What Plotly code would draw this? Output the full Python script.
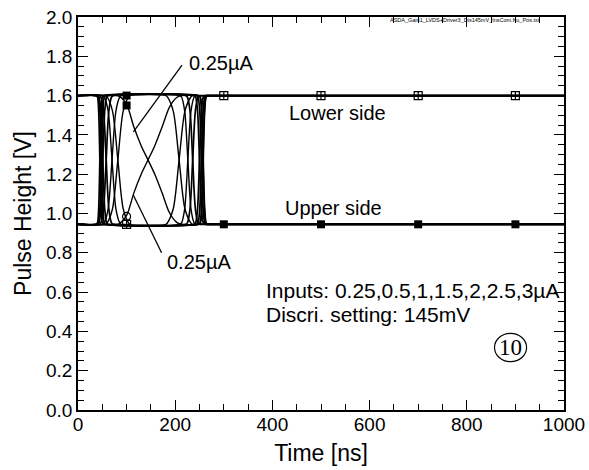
import plotly.graph_objects as go

# ---------------- data ----------------
inputs_uA = [3.0, 2.5, 2.0, 1.5, 1.0, 0.5, 0.25]

# time points [ns] for each input's traces
t_3_0 = [0, 37, 40, 42.5, 45, 47.5, 50, 53, 248, 251, 254, 257, 260, 263, 266, 269, 1000]
t_2_5 = [0, 39, 42, 45, 48, 51, 54, 57, 244, 247, 250.5, 254, 257.5, 261, 264, 267, 1000]
t_2_0 = [0, 40, 43, 47, 51, 55, 59, 62, 239, 242, 246, 250, 254, 258, 261, 264, 1000]
t_1_5 = [0, 44, 47, 52.5, 58, 63.5, 69, 72, 222, 225, 230.5, 236, 241.5, 247, 250, 253, 1000]
t_1_0 = [0, 51, 54, 62, 70, 78, 86, 89, 210, 213, 219.5, 226, 232.5, 239, 242, 245, 1000]
t_0_5 = [0, 57, 60, 71, 82, 93, 104, 107, 181, 184, 196, 208, 220, 232, 235, 238, 1000]
t_0_25 = [0, 75, 85, 100, 115, 130, 144, 158, 173, 188, 203, 213,
          249, 252, 255, 258, 261, 264, 267, 270, 1000]

# lower-side pulse heights [V]
low_3_0 = [1.6, 1.6, 1.593, 1.521, 1.273, 1.024, 0.952, 0.945, 0.945, 0.952, 1.024, 1.273, 1.521, 1.593, 1.6, 1.6, 1.6]
low_2_5 = [1.6, 1.6, 1.593, 1.521, 1.273, 1.024, 0.952, 0.945, 0.945, 0.952, 1.024, 1.273, 1.521, 1.593, 1.6, 1.6, 1.6]
low_2_0 = [1.6, 1.6, 1.593, 1.521, 1.273, 1.024, 0.952, 0.945, 0.945, 0.952, 1.024, 1.273, 1.521, 1.593, 1.6, 1.6, 1.6]
low_1_5 = [1.6, 1.6, 1.593, 1.521, 1.273, 1.024, 0.952, 0.945, 0.945, 0.952, 1.024, 1.273, 1.521, 1.593, 1.6, 1.6, 1.6]
low_1_0 = [1.6, 1.6, 1.593, 1.521, 1.273, 1.024, 0.952, 0.945, 0.945, 0.952, 1.024, 1.273, 1.521, 1.593, 1.6, 1.6, 1.6]
low_0_5 = [1.6, 1.6, 1.593, 1.521, 1.273, 1.024, 0.952, 0.945, 0.945, 0.952, 1.024, 1.273, 1.521, 1.593, 1.6, 1.6, 1.6]
low_0_25 = [1.6, 1.6, 1.596, 1.555, 1.44, 1.345, 1.273, 1.2, 1.105, 1.005, 0.955, 0.945,
            0.945, 0.952, 1.024, 1.273, 1.521, 1.593, 1.6, 1.6, 1.6]

# upper-side pulse heights [V]
up_3_0 = [0.945, 0.945, 0.952, 1.024, 1.273, 1.521, 1.593, 1.6, 1.6, 1.593, 1.521, 1.273, 1.024, 0.952, 0.945, 0.945, 0.945]
up_2_5 = [0.945, 0.945, 0.952, 1.024, 1.273, 1.521, 1.593, 1.6, 1.6, 1.593, 1.521, 1.273, 1.024, 0.952, 0.945, 0.945, 0.945]
up_2_0 = [0.945, 0.945, 0.952, 1.024, 1.273, 1.521, 1.593, 1.6, 1.6, 1.593, 1.521, 1.273, 1.024, 0.952, 0.945, 0.945, 0.945]
up_1_5 = [0.945, 0.945, 0.952, 1.024, 1.273, 1.521, 1.593, 1.6, 1.6, 1.593, 1.521, 1.273, 1.024, 0.952, 0.945, 0.945, 0.945]
up_1_0 = [0.945, 0.945, 0.952, 1.024, 1.273, 1.521, 1.593, 1.6, 1.6, 1.593, 1.521, 1.273, 1.024, 0.952, 0.945, 0.945, 0.945]
up_0_5 = [0.945, 0.945, 0.952, 1.024, 1.273, 1.521, 1.593, 1.6, 1.6, 1.593, 1.521, 1.273, 1.024, 0.952, 0.945, 0.945, 0.945]
up_0_25 = [0.945, 0.945, 0.949, 0.99, 1.105, 1.2, 1.272, 1.345, 1.44, 1.54, 1.59, 1.6,
           1.6, 1.593, 1.521, 1.273, 1.024, 0.952, 0.945, 0.945, 0.945]

times = [t_3_0, t_2_5, t_2_0, t_1_5, t_1_0, t_0_5, t_0_25]
lows = [low_3_0, low_2_5, low_2_0, low_1_5, low_1_0, low_0_5, low_0_25]
ups = [up_3_0, up_2_5, up_2_0, up_1_5, up_1_0, up_0_5, up_0_25]

# sampled markers
mark_t = [100, 300, 500, 700, 900]
mark_low = [0.945, 1.6, 1.6, 1.6, 1.6]
mark_up = [1.6, 0.945, 0.945, 0.945, 0.945]
mark_t_025 = [100]
mark_low_025 = [1.55]
mark_up_025 = [0.985]

x_ticks = [0, 200, 400, 600, 800, 1000]
y_ticks = [0.0, 0.2, 0.4, 0.6, 0.8, 1.0, 1.2, 1.4, 1.6, 1.8, 2.0]

# ---------------- figure ----------------
FONT = "Liberation Sans, Arial, sans-serif"
fig = go.Figure()

for inp, t, lo, hi in zip(inputs_uA, times, lows, ups):
    w = 1.7 if inp >= 1.5 else 1.4
    for side, v in (("Lower side", lo), ("Upper side", hi)):
        fig.add_trace(go.Scatter(
            x=t, y=v, mode="lines", name=f"{side} {inp} µA",
            line=dict(color="black", width=w, shape="spline", smoothing=0.8),
            showlegend=False, hoverinfo="skip"))

fig.add_trace(go.Scatter(x=mark_t, y=mark_low, mode="markers", showlegend=False,
                         marker=dict(symbol="square-cross-open", size=8, color="black",
                                     line=dict(width=1.2, color="black"))))
fig.add_trace(go.Scatter(x=mark_t, y=mark_up, mode="markers", showlegend=False,
                         marker=dict(symbol="square", size=8, color="black")))
fig.add_trace(go.Scatter(x=mark_t_025, y=mark_low_025, mode="markers", showlegend=False,
                         marker=dict(symbol="square", size=8, color="black")))
fig.add_trace(go.Scatter(x=mark_t_025, y=mark_up_025, mode="markers", showlegend=False,
                         marker=dict(symbol="circle-open", size=8, color="black",
                                     line=dict(width=1.2, color="black"))))

# leader lines for the 0.25 µA labels
fig.add_shape(type="line", x0=114, y0=1.415, x1=214, y1=1.755, xref="x", yref="y",
              line=dict(color="black", width=1.3))
fig.add_shape(type="line", x0=114, y0=1.093, x1=172, y1=0.80, xref="x", yref="y",
              line=dict(color="black", width=1.3))
# circled number
fig.add_shape(type="circle", x0=857, x1=923, y0=0.246, y1=0.39, xref="x", yref="y",
              line=dict(color="black", width=1.2))

ann = dict(showarrow=False, font=dict(family=FONT, size=20, color="black"),
           xanchor="left", yanchor="middle")
fig.add_annotation(x=224, y=1.764, text="0.25µA", **ann)
fig.add_annotation(x=179, y=0.752, text="0.25µA", **ann)
fig.add_annotation(x=430, y=1.51, text="Lower side", **ann)
fig.add_annotation(x=422, y=1.03, text="Upper side", **ann)
ann21 = dict(ann, font=dict(family=FONT, size=21, color="black"))
fig.add_annotation(x=382, y=0.61, text="Inputs: 0.25,0.5,1,1.5,2,2.5,3µA", **ann21)
fig.add_annotation(x=382, y=0.485, text="Discri. setting: 145mV", **ann21)
fig.add_annotation(x=890, y=0.318, text="10", showarrow=False,
                   font=dict(family="Liberation Serif, Times New Roman, serif", size=23, color="black"),
                   xanchor="center", yanchor="middle")
fig.add_annotation(x=637, y=1.985, text="ASDA_Gain1_LVDS+Driver3_Dis145mV_InsCom.Ku_Pos.txt",
                   showarrow=False, font=dict(family=FONT, size=5.5, color="black"),
                   xanchor="left", yanchor="middle")

axis_common = dict(showline=True, linecolor="black", linewidth=1.6, mirror="allticks",
                   ticks="inside", tickcolor="black", tickwidth=1.2, ticklen=10,
                   showgrid=False, zeroline=False,
                   tickfont=dict(family=FONT, size=19, color="black"))

fig.update_xaxes(range=[0, 1000], tickvals=x_ticks, ticktext=[str(v) for v in x_ticks],
                 minor=dict(dtick=50, ticks="inside", ticklen=6, tickcolor="black", tickwidth=1.0),
                 ticklabelstandoff=-4,
                 title=dict(text="Time [ns]", font=dict(family=FONT, size=23, color="black"),
                            standoff=11),
                 **axis_common)
fig.update_yaxes(range=[0, 2.0], tickvals=y_ticks, ticktext=[f"{v:.1f}" for v in y_ticks],
                 minor=dict(dtick=0.05, ticks="inside", ticklen=6, tickcolor="black", tickwidth=1.0),
                 title=dict(text="Pulse Height [V]", font=dict(family=FONT, size=23, color="black"),
                            standoff=8),
                 **axis_common)

fig.update_layout(width=589, height=470, margin=dict(l=78, r=25, t=17, b=60, autoexpand=False),
                  paper_bgcolor="white", plot_bgcolor="white", showlegend=False)

fig.write_html("out.html")
